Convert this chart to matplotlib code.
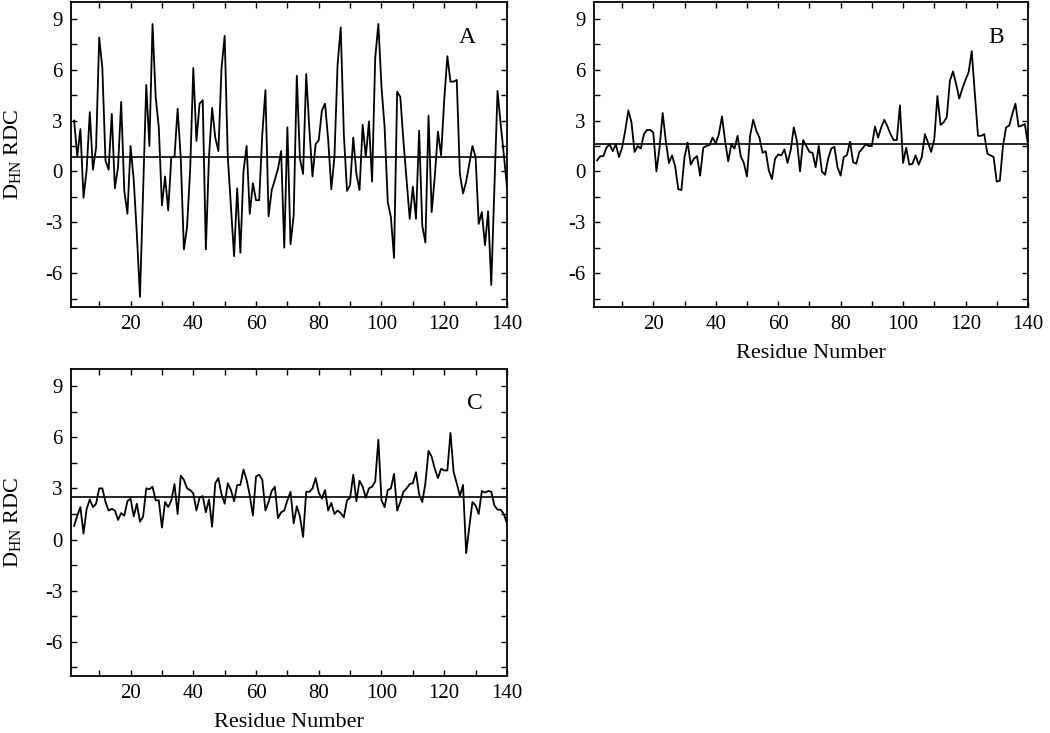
import numpy as np
import matplotlib
matplotlib.use("Agg")
import matplotlib.pyplot as plt
from matplotlib.ticker import MultipleLocator

plt.rcParams['font.family'] = ['Liberation Serif', 'DejaVu Serif']
plt.rcParams['mathtext.fontset'] = 'custom'
plt.rcParams['mathtext.rm'] = 'Liberation Serif'
plt.rcParams['axes.unicode_minus'] = False

# residue numbers (same for all three panels)
residues = np.arange(2, 141)

# panel A
rdc_a = [3.0, 0.9, 2.5, -1.55, 0.1, 3.5, 0.1, 1.4, 7.9, 6.1,
         0.65, 0.1, 3.4, -1.0, 0.25, 4.1, -1.15, -2.5, 1.5, -0.5,
         -3.7, -7.4, -1.2, 5.1, 1.5, 8.7, 4.4, 2.6, -2.0, -0.3,
         -2.3, 0.85, 0.85, 3.7, 0.8, -4.6, -3.3, 0.1, 6.1, 1.8,
         4.0, 4.2, -4.6, 0.85, 3.75, 2.0, 1.2, 6.1, 8.0, 0.85,
         -2.1, -5.0, -1.0, -4.8, 0.0, 1.5, -2.5, -0.7, -1.7, -1.7,
         2.2, 4.8, -2.65, -1.1, -0.5, 0.15, 1.2, -4.5, 2.6, -4.3,
         -2.6, 5.65, 0.75, -0.15, 5.75, 2.5, -0.3, 1.6, 1.85, 3.6,
         4.0, 1.9, -1.05, 0.85, 6.3, 8.5, 2.2, -1.15, -0.8, 2.0,
         -0.15, -1.1, 2.75, 0.85, 2.95, -0.6, 6.7, 8.7, 5.0, 2.6,
         -1.8, -2.7, -5.1, 4.7, 4.4, 1.8, -0.5, -2.8, -0.9, -2.8,
         2.4, -3.2, -4.2, 3.3, -2.4, -0.3, 2.35, 0.95, 4.2, 6.8,
         5.3, 5.3, 5.4, -0.15, -1.3, -0.6, 0.45, 1.5, 0.85, -3.1,
         -2.4, -4.35, -2.35, -6.7, -1.0, 4.75, 2.8, 1.0, -0.9]

# panel B
rdc_b = [0.65, 0.9, 0.9, 1.4, 1.6, 1.2, 1.6, 0.85, 1.4, 2.4,
         3.6, 2.9, 1.15, 1.5, 1.35, 2.2, 2.45, 2.45, 2.3, 0.0,
         1.4, 3.45, 1.8, 0.5, 0.95, 0.3, -1.05, -1.1, 0.85, 1.7,
         0.4, 0.75, 0.9, -0.25, 1.4, 1.5, 1.55, 2.0, 1.65, 2.2,
         3.25, 1.8, 0.6, 1.6, 1.35, 2.1, 0.9, 0.5, -0.3, 2.1,
         3.05, 2.4, 2.0, 1.1, 1.2, 0.05, -0.45, 0.75, 1.0, 0.95,
         1.3, 0.5, 1.25, 2.6, 1.8, 0.0, 1.85, 1.5, 1.15, 1.1,
         0.25, 1.5, 0.0, -0.2, 0.75, 1.35, 1.45, 0.25, -0.25, 0.85,
         0.95, 1.75, 0.55, 0.45, 1.15, 1.35, 1.6, 1.5, 1.5, 2.65,
         2.0, 2.6, 3.05, 2.65, 2.2, 1.85, 1.85, 3.9, 0.5, 1.4,
         0.4, 0.45, 0.95, 0.4, 0.85, 2.2, 1.7, 1.15, 1.9, 4.45,
         2.75, 2.9, 3.2, 5.35, 5.9, 5.15, 4.3, 4.9, 5.4, 5.85,
         7.1, 4.55, 2.1, 2.1, 2.2, 1.05, 0.95, 0.85, -0.6, -0.55,
         1.5, 2.6, 2.7, 3.4, 4.0, 2.65, 2.7, 2.8, 1.6]

# panel C
rdc_c = [0.8, 1.4, 1.9, 0.35, 1.8, 2.35, 1.9, 2.1, 3.0, 3.0,
         2.2, 1.7, 1.8, 1.7, 1.15, 1.55, 1.4, 2.25, 2.4, 1.35,
         2.1, 1.05, 1.35, 3.0, 2.95, 3.1, 2.3, 2.3, 0.7, 2.2,
         1.9, 2.3, 3.25, 1.5, 3.75, 3.5, 3.0, 2.9, 2.7, 1.7,
         2.45, 2.55, 1.6, 2.35, 0.75, 3.3, 3.6, 2.65, 2.1, 3.3,
         2.9, 2.25, 3.2, 3.2, 4.1, 3.5, 2.6, 1.4, 3.7, 3.8,
         3.5, 1.7, 2.2, 2.85, 3.1, 1.25, 1.6, 1.7, 2.3, 2.8,
         0.95, 1.95, 1.35, 0.15, 2.8, 2.8, 3.0, 3.6, 2.75, 2.4,
         2.9, 1.7, 2.15, 1.5, 1.7, 1.55, 1.3, 2.3, 2.45, 3.8,
         2.25, 3.45, 3.1, 2.45, 3.0, 3.1, 3.4, 5.85, 2.3, 1.9,
         2.9, 3.0, 3.85, 1.7, 2.2, 2.8, 3.0, 3.25, 3.3, 3.95,
         2.65, 2.2, 3.3, 5.2, 4.85, 4.15, 3.6, 4.15, 4.05, 4.05,
         6.25, 3.95, 3.3, 2.55, 3.2, -0.8, 0.75, 2.2, 2.0, 1.5,
         2.85, 2.75, 2.85, 2.8, 2.0, 1.75, 1.75, 1.5, 0.95]

# average level drawn as a horizontal line in each panel
avg_a, avg_b, avg_c = 0.85, 1.63, 2.48

fig = plt.figure(figsize=(10.5, 7.33), dpi=100)
ax_a = fig.add_axes([0.0676, 0.5812, 0.4152, 0.4161])
ax_b = fig.add_axes([0.5657, 0.5812, 0.4133, 0.4161])
ax_c = fig.add_axes([0.0676, 0.0778, 0.4152, 0.4188])

panels = [(ax_a, rdc_a, avg_a, 'A', 127.5, 7.9),
          (ax_b, rdc_b, avg_b, 'B', 129.7, 7.9),
          (ax_c, rdc_c, avg_c, 'C', 129.7, 8.0)]

for ax, vals, avg, letter, lx, ly in panels:
    ax.plot(residues, vals, color='black', linewidth=1.3)
    ax.axhline(avg, color='black', linewidth=1.2)
    ax.set_xlim(1, 140)
    ax.set_ylim(-8, 10)
    ax.xaxis.set_major_locator(MultipleLocator(20))
    ax.xaxis.set_minor_locator(MultipleLocator(10))
    ax.yaxis.set_major_locator(MultipleLocator(3))
    ax.yaxis.set_minor_locator(MultipleLocator(1.5))
    ax.tick_params(which='both', direction='in', top=True, right=True,
                   length=4, width=1.0)
    ax.tick_params(axis='x', which='major', pad=6, labelsize=15)
    ax.tick_params(axis='y', which='major', pad=6, labelsize=15)
    for sp in ax.spines.values():
        sp.set_linewidth(1.3)
    ax.text(lx, ly, letter, fontsize=17, ha='center', va='center')

for ax in (ax_a, ax_c):
    ax.set_ylabel(r'D$_{\mathrm{HN}}$ RDC', fontsize=16)
    ax.yaxis.set_label_coords(-0.108, 0.5)

for ax in (ax_b, ax_c):
    ax.set_xlabel('Residue Number', fontsize=16)
    ax.xaxis.set_label_coords(0.5, -0.12)

fig.savefig('out.png', dpi=100)
